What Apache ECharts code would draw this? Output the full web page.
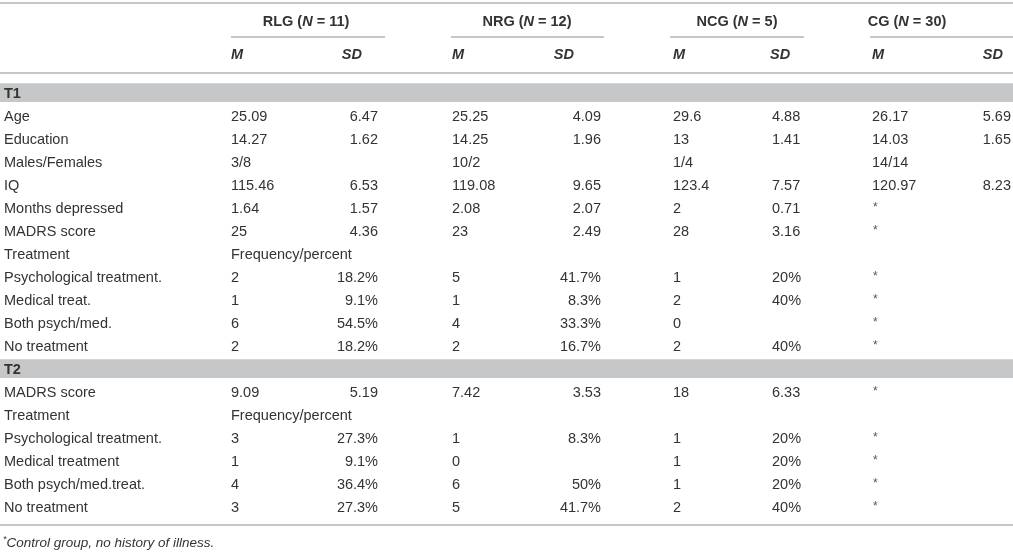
<!DOCTYPE html>
<html>
<head>
<meta charset="utf-8">
<script src="https://cdn.jsdelivr.net/npm/echarts@6/dist/echarts.min.js"></script>
<style>
html, body { margin: 0; padding: 0; background: #fff; }
#table-chart { width: 1013px; height: 553px; }
</style>
</head>
<body>
<div id="table-chart"></div>
<script>
// ---- data ----
const groups = ['RLG', 'NRG', 'NCG', 'CG'];
const groupN = [11, 12, 5, 30];
const subHeads = ['M', 'SD'];
const sections = ['T1', 'T2'];

const t1Rows = ['Age', 'Education', 'Males/Females', 'IQ', 'Months depressed', 'MADRS score', 'Treatment',
  'Psychological treatment.', 'Medical treat.', 'Both psych/med.', 'No treatment'];
const t1RlgM = ['25.09', '14.27', '3/8', '115.46', '1.64', '25', 'Frequency/percent', '2', '1', '6', '2'];
const t1RlgSD = ['6.47', '1.62', '', '6.53', '1.57', '4.36', '', '18.2%', '9.1%', '54.5%', '18.2%'];
const t1NrgM = ['25.25', '14.25', '10/2', '119.08', '2.08', '23', '', '5', '1', '4', '2'];
const t1NrgSD = ['4.09', '1.96', '', '9.65', '2.07', '2.49', '', '41.7%', '8.3%', '33.3%', '16.7%'];
const t1NcgM = ['29.6', '13', '1/4', '123.4', '2', '28', '', '1', '2', '0', '2'];
const t1NcgSD = ['4.88', '1.41', '', '7.57', '0.71', '3.16', '', '20%', '40%', '', '40%'];
const t1CgM = ['26.17', '14.03', '14/14', '120.97', '*', '*', '', '*', '*', '*', '*'];
const t1CgSD = ['5.69', '1.65', '', '8.23', '', '', '', '', '', '', ''];

const t2Rows = ['MADRS score', 'Treatment', 'Psychological treatment.', 'Medical treatment',
  'Both psych/med.treat.', 'No treatment'];
const t2RlgM = ['9.09', 'Frequency/percent', '3', '1', '4', '3'];
const t2RlgSD = ['5.19', '', '27.3%', '9.1%', '36.4%', '27.3%'];
const t2NrgM = ['7.42', '', '1', '0', '6', '5'];
const t2NrgSD = ['3.53', '', '8.3%', '', '50%', '41.7%'];
const t2NcgM = ['18', '', '1', '1', '1', '2'];
const t2NcgSD = ['6.33', '', '20%', '20%', '20%', '40%'];
const t2CgM = ['*', '', '*', '*', '*', '*'];
const t2CgSD = ['', '', '', '', '', ''];

const footnote = 'Control group, no history of illness.';

// ---- layout ----
const FONT = '"Liberation Sans", Arial, sans-serif';
const SIZE = 14.5;
const TEXT = '#333';
const RULE = '#b4b4b4';
const BAND = '#c6c7c9';

const labelX = 4;
const colX = [231, 378, 452, 601, 673, 772, 872, 1011];
const colAlign = ['left', 'right', 'left', 'right', 'left', 'left', 'left', 'right'];
const subHeadX = [231, 362, 452, 574, 673, 770, 872, 1003];
const groupCenter = [306, 527, 737, 907];
const groupLine = [[231, 385], [451, 604], [670, 804], [870, 1013]];

// rows in "row units": 0 = T1 band, 1..11 T1, 12 = T2 band, 13..18 T2
const sectionStart = [0, 12];
const sectionRows = [t1Rows, t2Rows];
const sectionCols = [
  [t1RlgM, t1RlgSD, t1NrgM, t1NrgSD, t1NcgM, t1NcgSD, t1CgM, t1CgSD],
  [t2RlgM, t2RlgSD, t2NrgM, t2NrgSD, t2NcgM, t2NcgSD, t2CgM, t2CgSD]
];

const bold = { fontWeight: 'bold', fontSize: SIZE, fontFamily: FONT, fill: TEXT };
const boldIt = { fontWeight: 'bold', fontStyle: 'italic', fontSize: SIZE, fontFamily: FONT, fill: TEXT };

const cells = [];
groups.forEach((g, k) => {
  cells.push({
    x: groupCenter[k], r: -3.12, align: 'center',
    text: '{b|' + g + ' (}{i|N}{b| = ' + groupN[k] + ')}', rich: { b: bold, i: boldIt }
  });
  subHeads.forEach((s, j) => {
    const c = k * 2 + j;
    cells.push({ x: subHeadX[c], r: -1.7, align: colAlign[c] === 'right' ? 'right' : 'left',
      text: s, font: 'italic bold ' + SIZE + 'px ' + FONT });
  });
});

sections.forEach((name, s) => {
  const r0 = sectionStart[s];
  cells.push({ x: labelX, r: r0, align: 'left', text: name, font: 'bold ' + SIZE + 'px ' + FONT });
  sectionRows[s].forEach((label, i) => {
    const r = r0 + 1 + i;
    cells.push({ x: labelX, r: r, align: 'left', text: label });
    sectionCols[s].forEach((col, c) => {
      const v = col[i];
      if (!v) return;
      if (v === '*') {
        cells.push({ x: colX[c] + 1, r: r - 0.04, align: 'left', text: v, font: '12px ' + FONT, color: '#555' });
      } else {
        cells.push({ x: colX[c], r: r, align: colAlign[c], text: v });
      }
    });
  });
});

cells.push({
  x: labelX - 1, r: 19.52, align: 'left',
  text: '{s|*}{t|' + footnote + '}',
  rich: {
    s: { fontSize: 9, fontFamily: FONT, fontStyle: 'italic', fill: TEXT, verticalAlign: 'top', padding: [0, 0, 6, 0] },
    t: { fontSize: 13.5, fontFamily: FONT, fontStyle: 'italic', fill: TEXT }
  }
});

const rules = [
  { r: -3.96, x0: 0, x1: 1013 },
  { r: -0.91, x0: 0, x1: 1013 },
  { r: 18.74, x0: 0, x1: 1013 }
];
groupLine.forEach(g => rules.push({ r: -2.48, x0: g[0], x1: g[1] }));

const bands = sectionStart.map(r => ({ r0: r - 0.47, r1: r + 0.35 }));

const chart = echarts.init(document.getElementById('table-chart'));
chart.setOption({
  animation: false,
  grid: { left: 0, right: 0, top: 0, bottom: 0 },
  xAxis: { type: 'value', min: 0, max: 1013, show: false },
  yAxis: { type: 'value', min: -94 / 23, max: 459 / 23, inverse: true, show: false },
  series: [
    {
      type: 'custom',
      silent: true,
      data: bands.map(b => [0, b.r0]),
      renderItem: (params, api) => {
        const b = bands[params.dataIndex];
        const p0 = api.coord([0, b.r0]);
        const p1 = api.coord([1013, b.r1]);
        return { type: 'rect', shape: { x: p0[0], y: p0[1], width: p1[0] - p0[0], height: p1[1] - p0[1] },
          style: { fill: BAND } };
      }
    },
    {
      type: 'custom',
      silent: true,
      data: rules.map(l => [l.x0, l.r]),
      renderItem: (params, api) => {
        const l = rules[params.dataIndex];
        const p0 = api.coord([l.x0, l.r]);
        const p1 = api.coord([l.x1, l.r]);
        return { type: 'line', shape: { x1: p0[0], y1: p0[1], x2: p1[0], y2: p1[1] },
          style: { stroke: RULE, lineWidth: 1.5 } };
      }
    },
    {
      type: 'custom',
      silent: true,
      data: cells.map(c => [c.x, c.r]),
      renderItem: (params, api) => {
        const c = cells[params.dataIndex];
        const p = api.coord([c.x, c.r]);
        const style = {
          text: c.text,
          fill: c.color || TEXT,
          font: c.font || (SIZE + 'px ' + FONT),
          textAlign: c.align,
          textVerticalAlign: 'middle'
        };
        if (c.rich) style.rich = c.rich;
        return { type: 'text', x: p[0], y: p[1], style: style };
      }
    }
  ]
});
</script>
</body>
</html>
